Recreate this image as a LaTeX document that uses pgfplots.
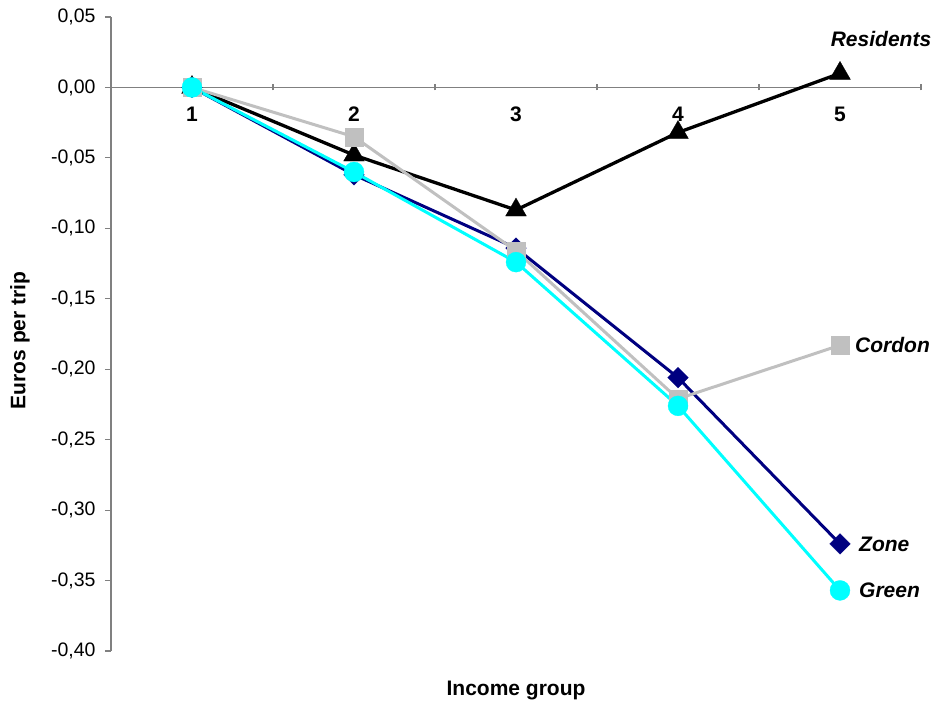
\documentclass[border=0pt]{standalone}
\usepackage{pgfplots}
\pgfplotsset{compat=1.18}
\usepackage{fontspec}
\setmainfont{Liberation Sans}
\definecolor{navyz}{RGB}{0,0,128}
\definecolor{cyang}{RGB}{0,255,255}
\definecolor{grayc}{RGB}{192,192,192}
\definecolor{axgray}{RGB}{128,128,128}
\begin{document}
\begin{tikzpicture}
\begin{axis}[
  scale only axis, width=810pt, height=634pt,
  xmin=0.5, xmax=5.5, ymin=-0.4, ymax=0.05,
  axis x line=middle, axis y line=left,
  axis line style={-, draw=axgray, line width=1.2pt},
  clip=false,
  xtick={1,2,3,4,5},
  xticklabels={1,2,3,4,5},
  minor xtick={0.5,1.5,2.5,3.5,4.5,5.5},
  major x tick style={draw=none},
  minor x tick style={draw=axgray, line width=1.2pt},
  minor tick length=6pt,
  x tick label style={font=\bfseries\fontsize{21}{24}\selectfont, yshift=-13pt},
  ytick={-0.4,-0.35,-0.3,-0.25,-0.2,-0.15,-0.1,-0.05,0,0.05},
  ytick align=outside,
  major tick length=6pt,
  y tick style={draw=axgray, line width=1.2pt},
  y tick label style={font=\fontsize{19.5}{23}\selectfont, xshift=-6pt,
     /pgf/number format/.cd, fixed, fixed zerofill, precision=2, use comma, assume math mode=true},
]
\coordinate (sw) at (rel axis cs:0,0);
\addplot[black, line width=3.3pt, mark=triangle*, mark size=12pt,
  mark options={fill=black, draw=black, line width=0.3pt}] coordinates
  {(1,0) (2,-0.048) (3,-0.087) (4,-0.032) (5,0.010)};
\addplot[navyz, line width=3pt, mark=square*, mark size=7.3pt,
  mark options={fill=navyz, draw=navyz, line width=0.3pt, rotate=45}] coordinates
  {(1,0) (2,-0.062) (3,-0.114) (4,-0.206) (5,-0.324)};
\addplot[grayc, line width=3pt, mark=square*, mark size=9pt,
  mark options={fill=grayc, draw=grayc, line width=0.3pt}] coordinates
  {(1,0) (2,-0.035) (3,-0.116) (4,-0.221) (5,-0.183)};
\addplot[cyang, line width=3pt, mark=*, mark size=10pt,
  mark options={fill=cyang, draw=cyang, line width=0.3pt}] coordinates
  {(1,0) (2,-0.060) (3,-0.124) (4,-0.226) (5,-0.357)};
\node[font=\bfseries\itshape\fontsize{21}{24}\selectfont] at (axis cs:5,0.010) [xshift=41pt, yshift=34pt] {Residents};
\node[font=\bfseries\itshape\fontsize{21}{24}\selectfont, anchor=west, inner sep=0pt] at (axis cs:5,-0.183) [xshift=15pt] {Cordon};
\node[font=\bfseries\itshape\fontsize{21}{24}\selectfont, anchor=west, inner sep=0pt] at (axis cs:5,-0.324) [xshift=19pt] {Zone};
\node[font=\bfseries\itshape\fontsize{21}{24}\selectfont, anchor=west, inner sep=0pt] at (axis cs:5,-0.357) [xshift=19pt] {Green};
\node[font=\bfseries\fontsize{21}{24}\selectfont] at (rel axis cs:0.5,0) [yshift=-39pt] {Income group};
\node[font=\bfseries\fontsize{21}{24}\selectfont, xshift=-91pt, rotate=90] at (rel axis cs:0,0.49) {Euros per trip};
\end{axis}
\path ([shift={(-111pt,-53pt)}]sw) rectangle ++(936pt,704pt);
\end{tikzpicture}
\end{document}
